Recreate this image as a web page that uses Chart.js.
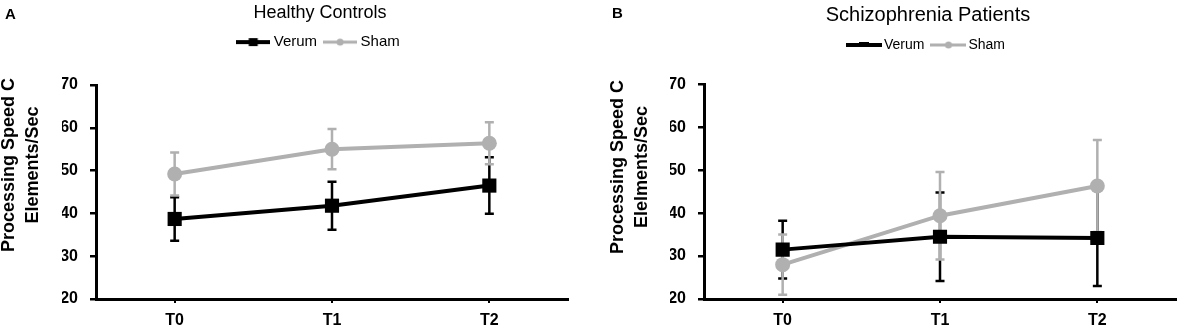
<!DOCTYPE html>
<html>
<head>
<meta charset="utf-8">
<title>Processing Speed C</title>
<script src="https://cdn.jsdelivr.net/npm/chart.js@4.4.0/dist/chart.umd.min.js"></script>
<style>
  body { margin: 0; background: #fff; }
  #wrap { position: relative; width: 1192px; height: 333px; overflow: hidden; }
  canvas { position: absolute; top: 0; }
  #chart-a { left: 0; }
  #chart-b { left: 596px; }
  .panel-tag { position: absolute; font: bold 15px 'Liberation Sans', Arial, sans-serif; line-height: 15px; color: #000; }
</style>
</head>
<body>
<div id="wrap">
  <canvas id="chart-a" width="578" height="333"></canvas>
  <canvas id="chart-b" width="590" height="333"></canvas>
  <div class="panel-tag" style="left:5px;top:6px">A</div>
  <div class="panel-tag" style="left:612px;top:5px">B</div>
</div>
<script>
const timepoints = ['T0', 'T1', 'T2'];
const yTicks = [20, 30, 40, 50, 60, 70];

// healthy controls (mean, error bar half length)
const hcVerum = [38.7, 41.8, 46.5];
const hcVerumErr = [5.1, 5.6, 6.6];
const hcSham = [49.2, 55.0, 56.4];
const hcShamErr = [5.0, 4.7, 4.9];

// schizophrenia patients
const szVerum = [31.5, 34.5, 34.2];
const szVerumErr = [6.7, 10.3, 11.2];
const szSham = [28.0, 39.4, 46.3];
const szShamErr = [7.0, 10.2, 10.7];

const BLACK = '#000000';
const GREY = '#b0b0b0';

Chart.defaults.font.family = "'Liberation Sans', Arial, sans-serif";
Chart.defaults.color = '#000';

// draws the +/- bars under the lines, verum first so sham sits on top
const errorBars = {
  id: 'errorBars',
  beforeDatasetsDraw(chart) {
    const ctx = chart.ctx;
    const y = chart.scales.y;
    chart.data.datasets.forEach((ds, i) => {
      const meta = chart.getDatasetMeta(i);
      ctx.save();
      ctx.strokeStyle = ds.borderColor;
      ctx.lineWidth = 2.5;
      meta.data.forEach((pt, j) => {
        const top = y.getPixelForValue(ds.data[j] + ds.errors[j]);
        const bot = y.getPixelForValue(ds.data[j] - ds.errors[j]);
        ctx.beginPath();
        ctx.moveTo(pt.x, top); ctx.lineTo(pt.x, bot);
        ctx.moveTo(pt.x - 4.5, top); ctx.lineTo(pt.x + 4.5, top);
        ctx.moveTo(pt.x - 4.5, bot); ctx.lineTo(pt.x + 4.5, bot);
        ctx.stroke();
      });
      ctx.restore();
    });
  }
};

// two line rotated y axis title
const yTitle = {
  id: 'yTitle',
  afterDraw(chart, args, opts) {
    const ctx = chart.ctx;
    ctx.save();
    ctx.fillStyle = '#000';
    ctx.font = "bold 18px 'Liberation Sans', Arial, sans-serif";
    ctx.textAlign = 'center';
    ctx.textBaseline = 'middle';
    opts.lines.forEach((line, i) => {
      ctx.save();
      ctx.translate(opts.xs[i], opts.y);
      ctx.rotate(-Math.PI / 2);
      ctx.fillText(line, 0, 0);
      ctx.restore();
    });
    ctx.restore();
  }
};

function legendIcon(color, shape, w, lineW) {
  const c = document.createElement('canvas');
  c.width = w;
  c.height = 12;
  const g = c.getContext('2d');
  g.fillStyle = color;
  g.fillRect(0, 6 - lineW / 2, w, lineW);
  if (shape === 'rect') {
    g.fillRect(w / 2 - 4.5, 2, 9, 8);
  } else if (shape === 'flat') {
    g.fillRect(w / 2 - 5, 3, 10, 5);
  } else {
    g.beginPath();
    g.arc(w / 2, 6, 3.5, 0, Math.PI * 2);
    g.fill();
  }
  return c;
}

function buildPanel(id, o) {
  const icons = [legendIcon(BLACK, o.verumIcon, o.iconW, 4), legendIcon(GREY, 'circle', o.iconW, 3)];
  return new Chart(document.getElementById(id), {
    type: 'line',
    data: {
      labels: timepoints,
      datasets: [
        {
          label: 'Verum', data: o.verum, errors: o.verumErr,
          borderColor: BLACK, backgroundColor: BLACK, borderWidth: 4,
          pointStyle: 'rect', pointRadius: 10, pointBorderWidth: 0
        },
        {
          label: 'Sham', data: o.sham, errors: o.shamErr,
          borderColor: GREY, backgroundColor: GREY, borderWidth: 4,
          pointStyle: 'circle', pointRadius: 7.5, pointBorderWidth: 0
        }
      ]
    },
    options: {
      responsive: false,
      animation: false,
      layout: { padding: { left: o.padLeft, right: 0, top: 0, bottom: 0 } },
      plugins: {
        title: {
          display: true, text: o.title, color: '#000',
          font: { size: o.titleSize, weight: 'normal' },
          padding: { top: o.titleTop, bottom: o.titleBottom }
        },
        // empty subtitle below the legend, only used as spacing
        subtitle: { display: true, text: '', weight: 500, font: { size: 10 }, padding: { top: 0, bottom: o.gap } },
        legend: {
          labels: {
            usePointStyle: true,
            pointStyleWidth: o.boxW,
            padding: o.legendPad,
            color: '#000',
            font: { size: o.legendSize },
            generateLabels(chart) {
              const items = Chart.defaults.plugins.legend.labels.generateLabels(chart);
              items.forEach(it => { it.pointStyle = icons[it.datasetIndex]; });
              return items;
            }
          }
        },
        tooltip: { enabled: false },
        yTitle: { lines: o.yTitle, xs: o.yTitleX, y: o.yTitleY }
      },
      scales: {
        x: {
          offset: true,
          border: { color: '#000', width: 3 },
          grid: { display: true, drawOnChartArea: false, drawTicks: true, tickLength: 4, color: '#000', lineWidth: 2 },
          ticks: { color: '#000', font: { size: 16, weight: 'bold' }, padding: 8 },
          afterFit: s => { s.height = 34; }
        },
        y: {
          min: yTicks[0],
          max: yTicks[yTicks.length - 1],
          border: { color: '#000', width: 3 },
          grid: { display: true, drawOnChartArea: false, drawTicks: true, tickLength: 6, color: '#000', lineWidth: 2.5 },
          ticks: { stepSize: 10, color: '#000', font: { size: 16, weight: 'bold' }, padding: 12 },
          afterBuildTicks: s => { s.ticks = yTicks.map(v => ({ value: v })); },
          afterFit: s => { s.width = 34; }
        }
      }
    },
    plugins: [errorBars, yTitle]
  });
}

buildPanel('chart-a', {
  title: 'Healthy Controls', titleSize: 18, titleTop: 2, titleBottom: 1,
  legendSize: 15, legendPad: 10, boxW: 26, iconW: 34, verumIcon: 'rect',
  gap: 13.4, padLeft: 62,
  verum: hcVerum, verumErr: hcVerumErr, sham: hcSham, shamErr: hcShamErr,
  yTitle: ['Processing Speed C', 'Elements/Sec'], yTitleX: [9.5, 33], yTitleY: 165
});

buildPanel('chart-b', {
  title: 'Schizophrenia Patients', titleSize: 20, titleTop: 3, titleBottom: 0,
  legendSize: 14, legendPad: 11, boxW: 26, iconW: 36, verumIcon: 'flat',
  gap: 10.3, padLeft: 74,
  verum: szVerum, verumErr: szVerumErr, sham: szSham, shamErr: szShamErr,
  yTitle: ['Processing Speed C', 'Elelments/Sec'], yTitleX: [22.5, 46.5], yTitleY: 167
});
</script>
</body>
</html>
